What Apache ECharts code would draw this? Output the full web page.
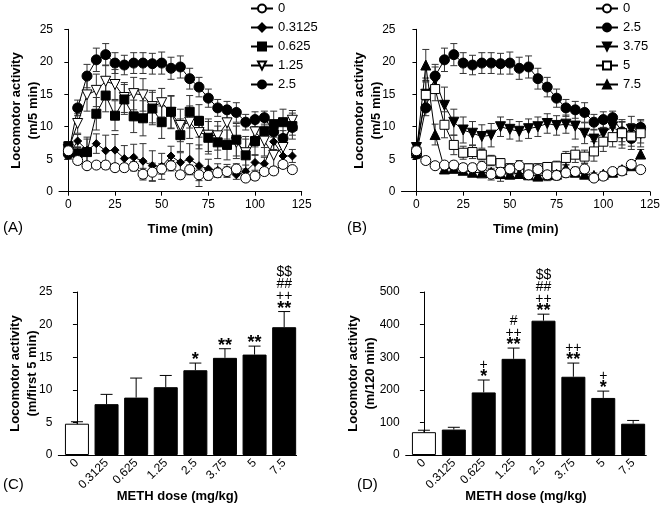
<!DOCTYPE html>
<html>
<head>
<meta charset="utf-8">
<style>
    html,body{margin:0;padding:0;background:#fff;}
    #main{width:666px;height:512px;}
</style>
</head>
<body>
<div id="main"></div>
<script src="https://cdn.jsdelivr.net/npm/echarts@6/dist/echarts.min.js"></script>
<script>
    // time course, 5-min bins
    var times = [0,5,10,15,20,25,30,35,40,45,50,55,60,65,70,75,80,85,90,95,100,105,110,115,120];

    var m0     = [6.3,4.8,4.0,4.1,4.1,3.7,3.7,3.9,2.7,3.0,3.5,4.0,2.6,3.4,2.6,2.5,2.9,3.1,3.5,2.1,2.4,3.1,3.2,4.2,3.4];
    var m0_e   = [0.8,0.6,0.5,0.5,0.6,0.6,0.6,0.7,0.9,1.4,0.8,0.8,0.6,0.7,0.9,0.7,0.7,0.7,0.8,0.5,0.6,0.5,0.6,0.6,0.5];
    var m03    = [5.6,7.8,6.4,7.4,6.3,6.4,5.1,5.3,4.7,4.0,3.9,5.5,4.5,5.0,4.0,3.5,3.3,3.2,2.6,3.1,4.5,4.3,7.7,5.5,5.5];
    var m03_e  = [0.6,1.0,2.0,1.5,2.4,2.4,2.0,2.0,2.7,2.3,2.0,1.5,1.5,2.4,3.2,1.5,1.0,1.0,0.7,1.0,1.2,1.0,1.2,1.5,1.0];
    var m06    = [7.0,5.9,6.1,12.0,14.8,11.7,14.2,11.6,11.3,12.8,10.7,12.3,8.7,12.3,10.9,8.3,7.6,7.2,8.0,5.6,7.8,9.3,10.4,10.7,10.1];
    var m06_e  = [0.7,1.0,2.0,2.5,2.5,2.3,2.3,2.5,2.7,2.5,2.5,2.5,2.5,2.5,2.5,2.5,2.5,2.3,2.5,2.5,2.2,2.5,2.0,2.0,2.0];
    var m12    = [6.5,10.5,14.9,15.6,17.0,16.5,14.5,15.1,14.9,13.1,13.7,12.2,10.2,10.7,9.1,8.7,8.6,10.6,7.6,6.0,9.2,7.8,5.6,6.8,11.0];
    var m12_e  = [0.7,1.5,2.5,2.5,2.5,2.3,2.3,2.5,2.5,2.5,2.2,2.5,2.5,2.5,2.5,2.5,2.2,2.5,2.5,2.5,2.3,2.3,2.2,2.0,1.5];
    var m25    = [5.8,12.9,17.8,20.3,21.1,19.8,19.5,19.8,19.8,19.7,19.8,19.0,19.2,17.4,16.1,14.4,12.9,12.6,12.2,10.7,11.1,11.4,9.2,8.2,9.9];
    var m25_e  = [0.7,1.2,1.8,1.8,1.7,1.6,1.5,1.6,1.6,1.6,1.7,1.7,1.7,1.6,1.5,1.4,1.3,1.3,1.5,1.2,1.2,1.0,1.5,1.2,1.2];
    var m375   = [6.8,15.0,17.2,13.3,10.7,9.5,9.0,8.5,8.7,10.0,9.6,9.3,9.7,10.0,10.5,10.2,10.4,10.1,9.0,8.1,9.0,10.0,8.9,9.6,8.9];
    var m375_e = [0.7,2.5,2.0,2.8,2.0,2.0,1.8,1.8,1.8,1.5,1.5,1.5,1.5,1.5,1.5,1.5,1.4,2.0,1.6,1.5,1.5,1.5,2.2,2.0,2.0];
    var m5     = [6.2,14.9,15.8,10.3,7.2,6.0,6.1,5.7,4.8,4.4,3.6,3.5,3.6,3.6,3.8,3.9,5.2,5.7,5.4,6.2,7.7,8.4,9.0,8.5,9.0];
    var m5_e   = [0.7,2.0,1.8,2.0,1.5,1.0,1.0,0.8,0.8,0.7,0.7,0.7,0.7,0.7,0.7,0.8,1.0,1.2,1.0,1.5,1.5,1.5,1.8,2.0,1.5];
    var m75    = [6.0,19.5,8.8,3.5,3.6,3.3,3.0,2.9,3.0,2.8,2.7,2.8,2.6,2.4,2.6,2.7,3.6,3.0,2.7,2.5,2.7,3.0,3.4,4.0,5.8];
    var m75_e  = [0.6,2.4,1.6,0.4,0.4,0.4,0.4,0.4,0.4,0.4,0.4,0.4,0.4,0.4,0.4,0.4,0.5,0.4,0.4,0.4,0.4,0.4,0.5,0.6,0.7];

    // dose response
    var doses   = ['0','0.3125','0.625','1.25','2.5','3.75','5','7.5'];
    var first5  = [4.8,7.8,8.8,10.4,13.0,14.9,15.4,19.6];
    var first5e = [0.3,1.5,3.0,1.8,1.1,1.4,1.3,2.4];
    var first5s = ['','','','','*','**','**','$$\n##\n++\n**'];
    var total   = [70,78,192,295,412,240,175,96];
    var totale  = [6,7,38,33,20,42,21,10];
    var totals  = ['','','+\n*','#\n++\n**','$$\n##\n++\n**','++\n**','+\n*',''];

    var ff = '"Liberation Sans", Arial, sans-serif';
    var downTri = 'path://M0,0 L10,0 L5,9 Z';

    function pts(v) {
        return times.map(function (t, i) { return [t, v[i]]; });
    }
    function errPts(v, e) {
        return times.map(function (t, i) { return [t, v[i], e[i]]; });
    }
    function errBars(params, api) {
        var x = api.value(0), y = api.value(1), e = api.value(2);
        var hi = api.coord([x, y + e]);
        var lo = api.coord([x, y - e]);
        var st = {stroke: '#333', lineWidth: 1};
        return {type: 'group', children: [
            {type: 'line', shape: {x1: hi[0], y1: hi[1], x2: lo[0], y2: lo[1]}, style: st},
            {type: 'line', shape: {x1: hi[0] - 3.5, y1: hi[1], x2: hi[0] + 3.5, y2: hi[1]}, style: st},
            {type: 'line', shape: {x1: lo[0] - 3.5, y1: lo[1], x2: lo[0] + 3.5, y2: lo[1]}, style: st}
        ]};
    }
    // stars get the big bold style, the other marks a plain one
    function richMarks(s) {
        if (!s) return '';
        return s.split('\n').map(function (l) {
            return l.indexOf('*') >= 0 ? '{s|' + l + '}' : '{o|' + l + '}';
        }).join('\n');
    }
    function barErr(stars) {
        return function (params, api) {
            var x = api.value(0), y = api.value(1), e = api.value(2);
            var b = api.coord([x, y]);
            var t = api.coord([x, y + e]);
            var st = {stroke: '#000', lineWidth: 1};
            return {type: 'group', children: [
                {type: 'line', shape: {x1: b[0], y1: b[1], x2: t[0], y2: t[1]}, style: st},
                {type: 'line', shape: {x1: t[0] - 6, y1: t[1], x2: t[0] + 6, y2: t[1]}, style: st},
                {type: 'text', x: t[0], y: t[1] + 3, style: {
                    text: richMarks(stars[params.dataIndex]), align: 'center', verticalAlign: 'bottom',
                    fill: '#000',
                    rich: {
                        s: {font: 'bold 18px ' + ff, lineHeight: 12, fill: '#000'},
                        o: {font: '14px ' + ff, lineHeight: 12, fill: '#000'}
                    }
                }}
            ]};
        };
    }
    function lineSeries(name, idx, v, sym, filled, size) {
        return {
            name: name, type: 'line', xAxisIndex: idx, yAxisIndex: idx,
            data: pts(v), symbol: sym, symbolSize: size, z: 3,
            lineStyle: {color: '#000', width: 1},
            itemStyle: {color: filled ? '#000' : '#fff', borderColor: '#000', borderWidth: 1},
            emphasis: {disabled: true}, animation: false
        };
    }
    function errSeries(idx, v, e) {
        return {type: 'custom', xAxisIndex: idx, yAxisIndex: idx, data: errPts(v, e),
            renderItem: errBars, z: 2, silent: true, animation: false};
    }

    var axLine = {lineStyle: {color: '#000', width: 1}};
    var axTick = {length: 4, lineStyle: {color: '#000'}};
    var axLbl = {color: '#000', fontSize: 12, fontFamily: ff};
    var nameSt = {color: '#000', fontSize: 13, fontWeight: 'bold', fontFamily: ff, lineHeight: 17};

    function timeX(idx, min) {
        return {type: 'value', gridIndex: idx, min: min, max: 125,
            axisLine: axLine, axisTick: Object.assign({customValues: [0,25,50,75,100,125]}, axTick),
            axisLabel: Object.assign({customValues: [0,25,50,75,100,125], margin: 7}, axLbl),
            splitLine: {show: false},
            name: 'Time (min)', nameLocation: 'middle', nameGap: 29, nameMoveOverlap: false, nameTextStyle: nameSt};
    }
    function doseX(idx, min, max) {
        return {type: 'value', gridIndex: idx, min: min, max: max,
            axisLine: axLine, axisTick: {show: false},
            axisLabel: Object.assign({customValues: [0,1,2,3,4,5,6,7], rotate: 45, margin: 6,
                formatter: function (v) { return doses[v]; }}, axLbl),
            splitLine: {show: false},
            name: 'METH dose (mg/kg)', nameLocation: 'middle', nameGap: 33, nameMoveOverlap: false, nameTextStyle: nameSt};
    }
    function valY(idx, max, interval, title, gap) {
        return {type: 'value', gridIndex: idx, min: 0, max: max, interval: interval,
            axisLine: {show: true, lineStyle: {color: '#000', width: 1}}, axisTick: Object.assign({show: true}, axTick),
            axisLabel: Object.assign({margin: 6}, axLbl), splitLine: {show: false},
            name: title, nameLocation: 'middle', nameGap: gap, nameMoveOverlap: false, nameTextStyle: nameSt};
    }

    var chart = echarts.init(document.getElementById('main'));
    var option = {
        backgroundColor: '#fff',
        animation: false,
        textStyle: {fontFamily: ff},
        grid: [
            {left: 59, top: 29.3, width: 242.7, height: 162.4},
            {left: 401.5, top: 29.3, width: 248.5, height: 162.4},
            {left: 58.3, top: 292, width: 238.3, height: 163},
            {left: 405.7, top: 292, width: 240.6, height: 163}
        ],
        xAxis: [timeX(0, -5), timeX(1, -8), doseX(2, -0.63, 7.42), doseX(3, -0.61, 7.44)],
        yAxis: [
            valY(0, 25, 5, 'Locomotor activity\n(m/5 min)', 17),
            valY(1, 25, 5, 'Locomotor activity\n(m/5 min)', 17),
            valY(2, 25, 5, 'Locomotor activity\n(m/first 5 min)', 17),
            valY(3, 500, 100, 'Locomotor activity\n(m/120 min)', 27)
        ],
        legend: [
            {data: ['0','0.3125','0.625','1.25','2.5'], orient: 'vertical', left: 245, top: -3,
                itemWidth: 22, itemHeight: 10, itemGap: 6, textStyle: {color: '#000', fontSize: 13, fontFamily: ff},
                selectedMode: false},
            {data: ['0','2.5','3.75','5','7.5'], orient: 'vertical', left: 590, top: -3,
                itemWidth: 22, itemHeight: 10, itemGap: 6, textStyle: {color: '#000', fontSize: 13, fontFamily: ff},
                selectedMode: false}
        ],
        graphic: [
            {type: 'text', left: 3, top: 220, style: {text: '(A)', font: '15px ' + ff, fill: '#000'}},
            {type: 'text', left: 347, top: 220, style: {text: '(B)', font: '15px ' + ff, fill: '#000'}},
            {type: 'text', left: 3, top: 477, style: {text: '(C)', font: '15px ' + ff, fill: '#000'}},
            {type: 'text', left: 357, top: 477, style: {text: '(D)', font: '15px ' + ff, fill: '#000'}}
        ],
        series: [
            // panel A
            errSeries(0, m25, m25_e), errSeries(0, m12, m12_e), errSeries(0, m06, m06_e),
            errSeries(0, m03, m03_e), errSeries(0, m0, m0_e),
            lineSeries('2.5', 0, m25, 'circle', true, 10),
            lineSeries('1.25', 0, m12, downTri, false, 10),
            lineSeries('0.625', 0, m06, 'rect', true, 9),
            lineSeries('0.3125', 0, m03, 'diamond', true, 8),
            lineSeries('0', 0, m0, 'circle', false, 10),
            // panel B
            errSeries(1, m25, m25_e), errSeries(1, m375, m375_e), errSeries(1, m5, m5_e),
            errSeries(1, m75, m75_e), errSeries(1, m0, m0_e),
            lineSeries('2.5', 1, m25, 'circle', true, 10),
            lineSeries('3.75', 1, m375, downTri, true, 10),
            lineSeries('5', 1, m5, 'rect', false, 9),
            lineSeries('7.5', 1, m75, 'triangle', true, 10),
            lineSeries('0', 1, m0, 'circle', false, 10),
            // panel C
            {type: 'bar', xAxisIndex: 2, yAxisIndex: 2, barWidth: 24,
                data: first5.map(function (v, i) { return [i, v]; }),
                itemStyle: {color: function (p) { return p.dataIndex === 0 ? '#fff' : '#000'; }, borderColor: '#000', borderWidth: 1}},
            {type: 'custom', xAxisIndex: 2, yAxisIndex: 2, z: 3,
                data: first5.map(function (v, i) { return [i, v, first5e[i]]; }), renderItem: barErr(first5s)},
            // panel D
            {type: 'bar', xAxisIndex: 3, yAxisIndex: 3, barWidth: 24,
                data: total.map(function (v, i) { return [i, v]; }),
                itemStyle: {color: function (p) { return p.dataIndex === 0 ? '#fff' : '#000'; }, borderColor: '#000', borderWidth: 1}},
            {type: 'custom', xAxisIndex: 3, yAxisIndex: 3, z: 3,
                data: total.map(function (v, i) { return [i, v, totale[i]]; }), renderItem: barErr(totals)}
        ]
    };
    chart.setOption(option);
</script>
</body>
</html>
